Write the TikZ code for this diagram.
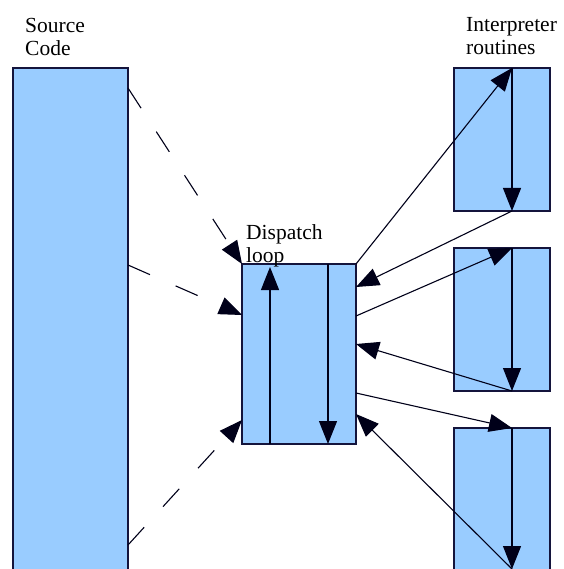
\documentclass[tikz,border=0pt]{standalone}
\usepackage{fontspec}
\setmainfont{Liberation Serif}
\usetikzlibrary{arrows.meta,calc}
\definecolor{boxfill}{HTML}{99CCFF}
\definecolor{boxline}{HTML}{14143C}
\begin{document}
\begin{tikzpicture}[x=1pt,y=-1pt,
  box/.style={draw=boxline, fill=boxfill, line width=1.2pt, inner sep=0pt, outer sep=0pt, rectangle},
  flow/.style={line width=1.1pt, draw=black!90!blue, -{Triangle[length=23pt,width=18pt]}},
  dashflow/.style={flow, dash pattern=on 24pt off 28pt},
  lbl/.style={font=\fontsize{21.5}{23}\selectfont, align=left, inner sep=0pt, anchor=north west}]
\useasboundingbox (0,0) rectangle (563,569);
% boxes
\node[box, minimum width=115pt, minimum height=512pt] (src) at (70.5,324) {};
\node[box, minimum width=114pt, minimum height=180pt] (disp) at (299,354) {};
\node[box, minimum width=96pt, minimum height=143pt] (r1) at (502,139.5) {};
\node[box, minimum width=96pt, minimum height=143pt] (r2) at (502,319.5) {};
\node[box, minimum width=96pt, minimum height=152pt] (r3) at (502,504) {};
% labels
\node[lbl] (srclbl) at (25,18) {Source\\Code};
\node[lbl] (intlbl) at (466,17) {Interpreter\\routines};
\node[lbl] (displbl) at (246,224) {Dispatch\\loop};
% coordinates
\coordinate (r1top) at ($(r1.north)+(10,0)$);
\coordinate (r1bot) at ($(r1.south)+(10,0)$);
\coordinate (r2top) at ($(r2.north)+(10,0)$);
\coordinate (r2bot) at ($(r2.south)+(10,0)$);
\coordinate (r3top) at ($(r3.north)+(10,0)$);
\coordinate (r3end) at ($(r3.north)+(10,141)$);
\coordinate (dupb) at ($(disp.south)+(-29,0)$);
\coordinate (dupt) at ($(disp.north)+(-29,3)$);
\coordinate (ddnt) at ($(disp.north)+(29,0)$);
\coordinate (ddnb) at ($(disp.south)+(29,0)$);
% inner arrows
\draw[flow] (r1top) -- (r1bot);
\draw[flow] (r2top) -- (r2bot);
\draw[flow] (r3top) -- (r3end);
\draw[flow] (dupb) -- (dupt);
\draw[flow] (ddnt) -- (ddnb);
% dispatch <-> routines
\draw[flow] (disp.north east) -- (r1top);
\draw[flow] (r1bot) -- ($(disp.north east)+(0,23)$);
\draw[flow] ($(disp.north east)+(0,52)$) -- (r2top);
\draw[flow] (r2bot) -- ($(disp.north east)+(0,80)$);
\draw[flow] ($(disp.north east)+(0,129)$) -- (r3top);
\draw[flow] (r3end) -- ($(disp.north east)+(0,150)$);
% source -> dispatch
\draw[dashflow] ($(src.north east)+(0,20)$) -- (disp.north west);
\draw[dashflow] ($(src.north east)+(0,197)$) -- ($(disp.north west)+(0,51)$);
\draw[dashflow] ($(src.north east)+(0,477)$) -- ($(disp.north west)+(0,156)$);
\end{tikzpicture}
\end{document}
